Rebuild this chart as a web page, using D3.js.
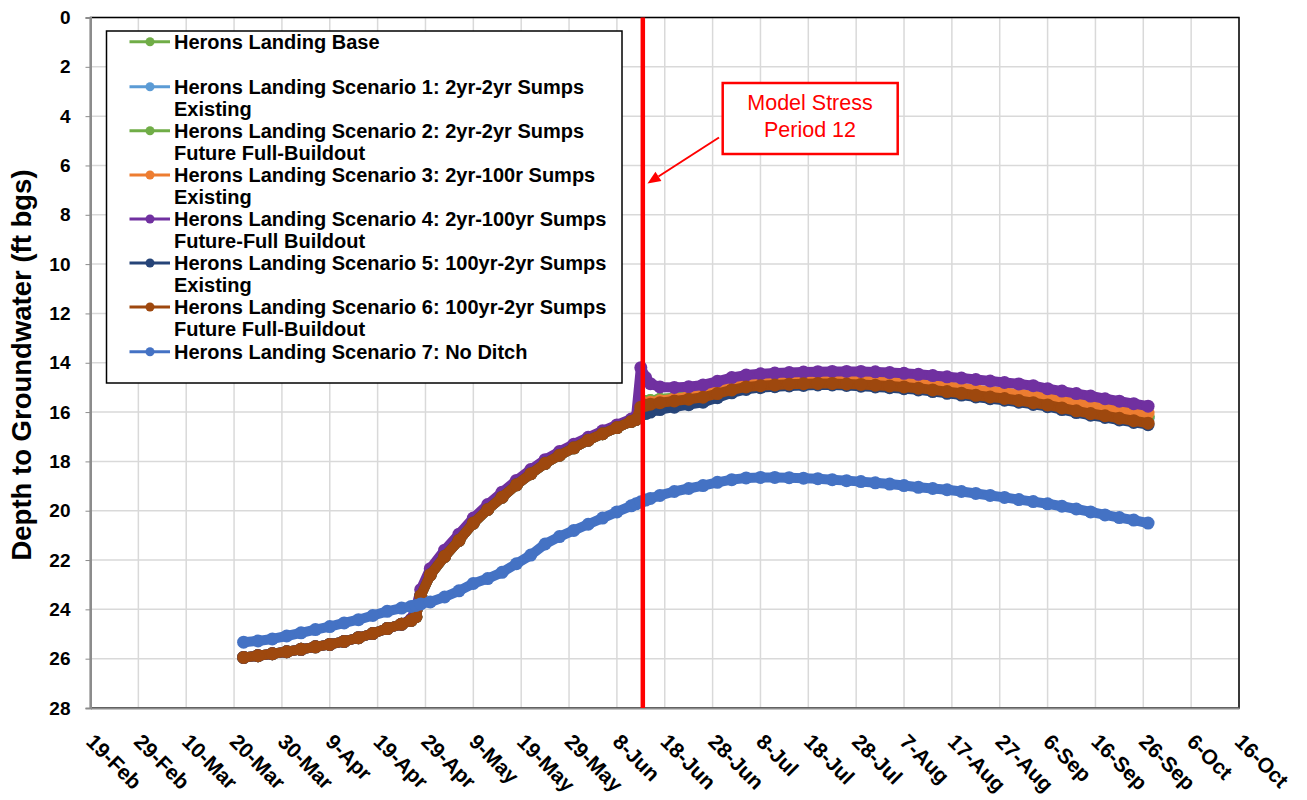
<!DOCTYPE html>
<html><head><meta charset="utf-8">
<script src="https://cdn.jsdelivr.net/npm/d3@7"></script>
<style>body{margin:0;background:#fff} text{font-family:Arial,"Liberation Sans",sans-serif}</style>
</head><body><svg id="c" width="1307" height="800"></svg>
<script>
// ---------- DATA ----------
const dates = ["2024-03-22","2024-03-25","2024-03-28","2024-03-31",
"2024-04-03","2024-04-06","2024-04-09","2024-04-12","2024-04-15","2024-04-18","2024-04-21","2024-04-24","2024-04-26","2024-04-27","2024-04-28","2024-04-30",
"2024-05-03","2024-05-06","2024-05-09","2024-05-12","2024-05-15","2024-05-18","2024-05-21","2024-05-24","2024-05-27","2024-05-30",
"2024-06-02","2024-06-05","2024-06-08","2024-06-11","2024-06-12",
"2024-06-13","2024-06-14","2024-06-15","2024-06-17","2024-06-20","2024-06-23","2024-06-26","2024-06-29",
"2024-07-02","2024-07-05","2024-07-08","2024-07-11","2024-07-14","2024-07-17","2024-07-20","2024-07-23","2024-07-26","2024-07-29",
"2024-08-01","2024-08-04","2024-08-07","2024-08-10","2024-08-13","2024-08-16","2024-08-19","2024-08-22","2024-08-25","2024-08-28","2024-08-31",
"2024-09-03","2024-09-06","2024-09-09","2024-09-12","2024-09-15","2024-09-18","2024-09-21","2024-09-24","2024-09-27"];

// values identical for Base and Scenarios 1,2,3,5,6 before stress period 12 (22-Mar .. 12-Jun)
const sharedBeforeSP12 = [25.95,25.88,25.8,25.72,25.62,25.52,25.42,25.3,25.15,24.98,24.78,24.6,24.45,24.3,23.45,22.6,
21.85,21.2,20.5,19.95,19.45,18.95,18.5,18.08,17.75,17.45,17.14,16.88,16.63,16.38,16.3];

// values from 13-Jun onward
const basePost = [15.65,15.57,15.53,15.48,15.42,15.36,15.3,15.14,
14.98,14.85,14.78,14.74,14.71,14.69,14.67,14.67,14.68,14.72,
14.75,14.78,14.82,14.88,14.95,15.02,15.08,15.15,15.22,15.28,15.35,
15.43,15.52,15.62,15.73,15.84,15.93,16.02,16.1,16.18];
const s1Post = [15.7,15.63,15.59,15.54,15.48,15.42,15.36,15.2,
15.04,14.91,14.84,14.8,14.77,14.75,14.73,14.73,14.74,14.78,
14.81,14.84,14.88,14.94,15.01,15.08,15.14,15.21,15.28,15.34,15.41,
15.49,15.58,15.68,15.79,15.9,15.99,16.08,16.16,16.25];
const s2Post = [15.65,15.57,15.53,15.48,15.42,15.36,15.3,15.14,
14.98,14.85,14.78,14.74,14.71,14.69,14.67,14.67,14.68,14.72,
14.75,14.78,14.82,14.88,14.95,15.02,15.08,15.15,15.22,15.28,15.35,
15.43,15.52,15.62,15.73,15.84,15.93,16.02,16.1,16.18];
const s3Post = [15.72,15.64,15.6,15.54,15.46,15.38,15.3,15.12,
14.96,14.83,14.76,14.72,14.69,14.67,14.65,14.64,14.65,14.69,
14.71,14.74,14.77,14.82,14.88,14.95,15.02,15.09,15.15,15.2,15.27,
15.34,15.42,15.52,15.62,15.72,15.8,15.88,15.96,16.04];
const s5Post = [16.12,16.06,16.0,15.9,15.8,15.7,15.6,15.42,
15.22,15.08,15.01,14.97,14.94,14.92,14.9,14.9,14.92,14.95,
14.98,15.01,15.05,15.1,15.17,15.24,15.31,15.39,15.46,15.52,15.6,
15.69,15.78,15.9,16.02,16.13,16.22,16.32,16.42,16.51];
const s6Post = [15.8,15.72,15.68,15.62,15.55,15.48,15.4,15.25,
15.1,14.98,14.93,14.9,14.87,14.85,14.84,14.84,14.86,14.88,
14.91,14.94,14.98,15.03,15.1,15.17,15.24,15.32,15.39,15.45,15.53,
15.62,15.71,15.83,15.95,16.06,16.15,16.25,16.35,16.45];

const s4Values = [25.95,25.88,25.8,25.72,25.62,25.52,25.42,25.3,25.15,24.98,24.78,24.6,24.4,23.95,23.2,22.35,
21.6,20.95,20.3,19.75,19.25,18.77,18.33,17.93,17.6,17.3,17.02,16.76,16.52,16.28,16.2,
14.2,14.6,14.85,14.98,15.0,14.97,14.9,14.75,
14.6,14.5,14.45,14.42,14.4,14.38,14.36,14.35,14.35,14.35,
14.37,14.4,14.43,14.47,14.52,14.57,14.62,14.68,14.74,14.8,14.86,
14.93,15.05,15.15,15.25,15.35,15.46,15.56,15.66,15.76];

const s7Values = [25.33,25.28,25.2,25.08,24.95,24.82,24.7,24.55,24.42,24.25,24.08,23.95,23.88,23.84,23.78,23.7,
23.5,23.25,22.95,22.75,22.5,22.15,21.8,21.35,21.05,20.8,20.55,20.3,20.05,19.8,19.72,
19.64,19.57,19.5,19.38,19.22,19.1,18.98,18.85,
18.74,18.67,18.65,18.65,18.66,18.68,18.7,18.74,18.78,18.82,
18.87,18.92,18.98,19.05,19.1,19.15,19.22,19.3,19.38,19.46,19.55,
19.63,19.72,19.82,19.93,20.05,20.17,20.28,20.38,20.5];

const seriesNames = [
  ["Herons Landing Base"],
  ["Herons Landing Scenario 1: 2yr-2yr Sumps", "Existing"],
  ["Herons Landing Scenario 2: 2yr-2yr Sumps", "Future Full-Buildout"],
  ["Herons Landing Scenario 3: 2yr-100r Sumps", "Existing"],
  ["Herons Landing Scenario 4: 2yr-100yr Sumps", "Future-Full Buildout"],
  ["Herons Landing Scenario 5: 100yr-2yr Sumps", "Existing"],
  ["Herons Landing Scenario 6: 100yr-2yr Sumps", "Future Full-Buildout"],
  ["Herons Landing Scenario 7: No Ditch"]
];
const seriesColors = ["#70AD47","#5B9BD5","#70AD47","#ED7D31","#7030A0","#264478","#9E480E","#4472C4"];

const tickDates = ["2024-02-19","2024-02-29","2024-03-10","2024-03-20","2024-03-30","2024-04-09","2024-04-19","2024-04-29",
"2024-05-09","2024-05-19","2024-05-29","2024-06-08","2024-06-18","2024-06-28","2024-07-08","2024-07-18","2024-07-28",
"2024-08-07","2024-08-17","2024-08-27","2024-09-06","2024-09-16","2024-09-26","2024-10-06","2024-10-16"];
const tickLabels = ["19-Feb","29-Feb","10-Mar","20-Mar","30-Mar","9-Apr","19-Apr","29-Apr","9-May","19-May","29-May","8-Jun",
"18-Jun","28-Jun","8-Jul","18-Jul","28-Jul","7-Aug","17-Aug","27-Aug","6-Sep","16-Sep","26-Sep","6-Oct","16-Oct"];
const yTicks = [0,2,4,6,8,10,12,14,16,18,20,22,24,26,28];
const stressPeriodDate = "2024-06-13T10:00:00Z";
const annotationLines = ["Model Stress","Period 12"];
const yTitle = "Depth to Groundwater (ft bgs)";

// ---------- BUILD ----------
const values = [
  sharedBeforeSP12.concat(basePost),
  sharedBeforeSP12.concat(s1Post),
  sharedBeforeSP12.concat(s2Post),
  sharedBeforeSP12.concat(s3Post),
  s4Values,
  sharedBeforeSP12.concat(s5Post),
  sharedBeforeSP12.concat(s6Post),
  s7Values
];
const parse = d3.isoParse;
const FONT = "Arial, 'Liberation Sans', sans-serif";
const L = 90.5, R = 1239, T = 17.5, B = 708;
const x = d3.scaleUtc().domain([parse(tickDates[0]), parse(tickDates[tickDates.length-1])]).range([L, R]);
const y = d3.scaleLinear().domain([0, 28]).range([T, B]);
const svg = d3.select("#c");

// gridlines
const grid = svg.append("g").attr("stroke", "#d9d9d9").attr("stroke-width", 1.5);
tickDates.forEach(d => grid.append("line").attr("x1", x(parse(d))).attr("x2", x(parse(d))).attr("y1", T).attr("y2", B));
yTicks.forEach(v => grid.append("line").attr("x1", L).attr("x2", R).attr("y1", y(v)).attr("y2", y(v)));

// plot border
svg.append("rect").attr("x", L).attr("y", T).attr("width", R - L).attr("height", B - T)
  .attr("fill", "none").attr("stroke", "#000").attr("stroke-width", 1.5);

// axes (gray)
const yAxis = d3.axisLeft(y).tickValues(yTicks).tickSize(5).tickFormat(d3.format("d"));
const ya = svg.append("g").attr("transform", `translate(${L},0)`).call(yAxis);
ya.select(".domain").attr("stroke", "#8c8c8c").attr("stroke-width", 2);
ya.selectAll(".tick line").attr("stroke", "#8c8c8c");
ya.selectAll(".tick text").attr("x", -20).attr("font-size", 19).attr("font-weight", "bold")
  .attr("font-family", FONT).attr("fill", "#000");

const xAxis = d3.axisBottom(x).tickValues(tickDates.map(parse)).tickSize(0).tickFormat((d, i) => tickLabels[i]);
const xa = svg.append("g").attr("transform", `translate(0,${B})`).call(xAxis);
xa.select(".domain").attr("stroke", "#8c8c8c").attr("stroke-width", 2);
xa.selectAll(".tick text")
  .attr("font-size", 21).attr("font-weight", "bold").attr("font-family", FONT)
  .attr("fill", "#000").attr("text-anchor", "start").attr("dy", null).attr("y", 0)
  .attr("transform", "translate(-6,35) rotate(45)");

// series
const line = d3.line().x(d => x(d[0])).y(d => y(d[1]));
const parsedDates = dates.map(parse);
values.forEach((vals, i) => {
  const pts = vals.map((v, j) => [parsedDates[j], v]);
  const g = svg.append("g");
  g.append("path").attr("d", line(pts)).attr("fill", "none").attr("stroke", seriesColors[i])
    .attr("stroke-width", 10).attr("stroke-linejoin", "round").attr("stroke-linecap", "round");
  g.selectAll("circle").data(pts).join("circle")
    .attr("cx", d => x(d[0])).attr("cy", d => y(d[1])).attr("r", 6.5).attr("fill", seriesColors[i]);
});

// red stress period line
const xs = x(parse(stressPeriodDate));
svg.append("line").attr("x1", xs).attr("x2", xs).attr("y1", T).attr("y2", B)
  .attr("stroke", "#FF0000").attr("stroke-width", 4.5);

// annotation
svg.append("rect").attr("x", 722.7).attr("y", 83).attr("width", 175).attr("height", 71)
  .attr("fill", "#fff").attr("stroke", "#FF0000").attr("stroke-width", 2.5);
annotationLines.forEach((t, i) => svg.append("text").attr("x", 810).attr("y", 110 + i * 27)
  .attr("text-anchor", "middle").attr("font-size", 21.5).attr("fill", "#FF0000").text(t));
const a0 = [719, 137.5], a1 = [647.5, 183.5];
const ang = Math.atan2(a1[1] - a0[1], a1[0] - a0[0]);
const hl = 13, hw = 5.5;
const hb = [a1[0] - hl * Math.cos(ang), a1[1] - hl * Math.sin(ang)];
svg.append("line").attr("x1", a0[0]).attr("y1", a0[1]).attr("x2", hb[0]).attr("y2", hb[1])
  .attr("stroke", "#FF0000").attr("stroke-width", 2);
svg.append("polygon").attr("fill", "#FF0000").attr("points", [
  a1, [hb[0] + hw * Math.sin(ang), hb[1] - hw * Math.cos(ang)],
  [hb[0] - hw * Math.sin(ang), hb[1] + hw * Math.cos(ang)]].map(p => p.join(",")).join(" "));

// legend
const lg = svg.append("g");
lg.append("rect").attr("x", 106.5).attr("y", 31).attr("width", 515.5).attr("height", 352)
  .attr("fill", "#fff").attr("stroke", "#000").attr("stroke-width", 1.5);
const rowY = [41.7, 86.7, 130.7, 175, 219, 263, 307, 351.7];
seriesNames.forEach((lines, i) => {
  const yy = rowY[i];
  lg.append("line").attr("x1", 129.5).attr("x2", 170).attr("y1", yy).attr("y2", yy)
    .attr("stroke", seriesColors[i]).attr("stroke-width", 3);
  lg.append("circle").attr("cx", 150).attr("cy", yy).attr("r", 4.5).attr("fill", seriesColors[i]);
  lines.forEach((t, k) => lg.append("text").attr("x", 174).attr("y", yy + k * 22).attr("dy", "0.35em")
    .attr("font-size", 20).attr("font-weight", "bold").attr("fill", "#000").text(t));
});

// y title
svg.append("text").attr("transform", `translate(31,365) rotate(-90)`).attr("text-anchor", "middle")
  .attr("font-size", 27.5).attr("font-weight", "bold").attr("fill", "#000").text(yTitle);
</script>
</body></html>
